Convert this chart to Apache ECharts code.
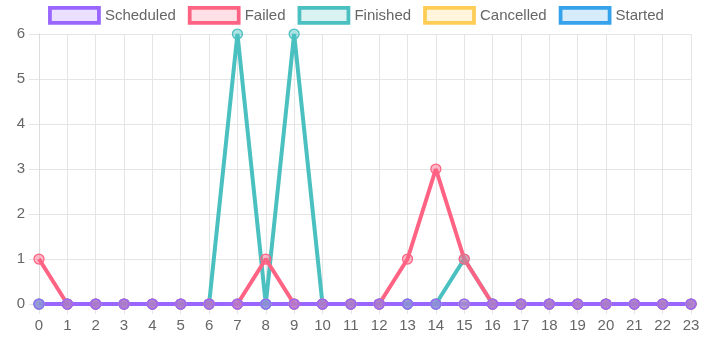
<!DOCTYPE html>
<html><head><meta charset="utf-8">
<script src="https://cdn.jsdelivr.net/npm/echarts@6/dist/echarts.min.js"></script>
<style>html,body{margin:0;padding:0;background:#fff}#c{width:712px;height:342px}</style>
</head><body><div id="c"></div>
<script>
var categories = ['0','1','2','3','4','5','6','7','8','9','10','11','12','13','14','15','16','17','18','19','20','21','22','23'];
var scheduled = [0,0,0,0,0,0,0,0,0,0,0,0,0,0,0,0,0,0,0,0,0,0,0,0];
var failed    = [1,0,0,0,0,0,0,0,1,0,0,0,0,1,3,1,0,0,0,0,0,0,0,0];
var finished  = [0,0,0,0,0,0,0,6,0,6,0,0,0,0,0,1,0,0,0,0,0,0,0,0];
var cancelled = [0,0,0,0,0,0,0,0,0,0,0,0,0,0,0,0,0,0,0,0,0,0,0,0];
var started   = [0,0,0,0,0,0,0,0,0,0,0,0,0,0,0,0,0,0,0,0,0,0,0,0];
var yTicks = [0,1,2,3,4,5,6];

var defs = [
  {name:'Scheduled', data:scheduled, c:'153,102,255'},
  {name:'Failed', data:failed, c:'255,99,132'},
  {name:'Finished', data:finished, c:'75,192,192'},
  {name:'Cancelled', data:cancelled, c:'255,205,86'},
  {name:'Started', data:started, c:'54,162,235'}
];
var FONT = 'Liberation Sans, Arial, sans-serif';
var series = defs.slice().reverse().map(function(d){
  return {
    name:d.name, type:'line', data:d.data,
    symbol:'circle', symbolSize:10, showSymbol:true,
    lineStyle:{color:'rgb('+d.c+')', width:4},
    itemStyle:{color:'rgba('+d.c+',0.45)', borderColor:'rgb('+d.c+')', borderWidth:1.25},
    emphasis:{disabled:true}
  };
});
var chart = echarts.init(document.getElementById('c'), null, {renderer:'canvas'});
chart.setOption({
  animation:false,
  legend:{
    top:1, left:'center', itemWidth:49, itemHeight:15, itemGap:12,
    icon:'rect',
    textStyle:{color:'#666', fontSize:15, fontFamily:FONT, padding:[0,0,0,1]},
    data: defs.map(function(d){return {name:d.name, itemStyle:{color:'rgba('+d.c+',0.2)', borderColor:'rgb('+d.c+')', borderWidth:3.75}};})
  },
  grid:{left:39, right:21, top:34, bottom:38},
  xAxis:{
    type:'category', data:categories, boundaryGap:false,
    axisLine:{lineStyle:{color:'#dcdcdc'}},
    axisTick:{show:true, length:10, lineStyle:{color:'#e5e5e5'}},
    axisLabel:{color:'#666', fontSize:15, margin:14, fontFamily:FONT, interval:0},
    splitLine:{show:true, lineStyle:{color:'#e5e5e5'}}
  },
  yAxis:{
    type:'value', min:yTicks[0], max:yTicks[yTicks.length-1], interval:1,
    axisLine:{show:true, lineStyle:{color:'#dcdcdc'}},
    axisTick:{show:true, length:10, lineStyle:{color:'#e5e5e5'}},
    axisLabel:{color:'#666', fontSize:15, margin:14, fontFamily:FONT},
    splitLine:{show:true, lineStyle:{color:'#e5e5e5'}}
  },
  series:series
});
</script></body></html>
